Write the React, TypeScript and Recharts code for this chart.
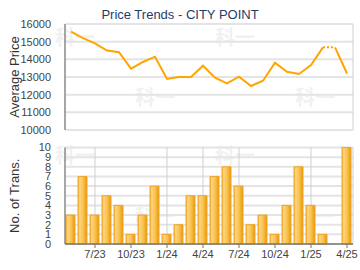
import {
  ComposedChart,
  Line,
  Bar,
  XAxis,
  YAxis,
  CartesianGrid,
} from "recharts";

const months = [
  "5/23", "6/23", "7/23", "8/23", "9/23", "10/23", "11/23", "12/23",
  "1/24", "2/24", "3/24", "4/24", "5/24", "6/24", "7/24", "8/24",
  "9/24", "10/24", "11/24", "12/24", "1/25", "2/25", "3/25", "4/25",
];
const avgPrice: (number | null)[] = [
  15570, 15200, 14900, 14500, 14400, 13470, 13850, 14150,
  12890, 13000, 13000, 13640, 12960, 12640, 13020, 12490,
  12790, 13810, 13300, 13170, 13680, 14680, null, 13200,
];
const transactions = [
  3, 7, 3, 5, 4, 1, 3, 6, 1, 2, 5, 5, 7, 8, 6, 2, 3, 1, 4, 8, 4, 1, 0, 10,
];
const labeledMonths = ["7/23", "10/23", "1/24", "4/24", "7/24", "10/24", "1/25", "4/25"];
const priceTicks = [10000, 11000, 12000, 13000, 14000, 15000, 16000];
const transTicks = [0, 1, 2, 3, 4, 5, 6, 7, 8, 9, 10];

const font = "Arial, 'Liberation Sans', sans-serif";
const xTicks = labeledMonths.map((m) => months.indexOf(m));

// months without sales carry the previous price, drawn dotted
const filled: number[] = [];
avgPrice.forEach((p, i) => filled.push(p ?? filled[i - 1]));

const data = months.map((m, i) => {
  const row: Record<string, number | string | null> = {
    i,
    m,
    price: avgPrice[i],
    trans: transactions[i],
    dotted: null,
    bridge: null,
  };
  return row;
});
avgPrice.forEach((p, i) => {
  if (p === null) {
    data[i - 1].dotted = filled[i - 1];
    data[i].dotted = filled[i];
    data[i].bridge = filled[i];
    if (i + 1 < data.length) data[i + 1].bridge = filled[i + 1];
  }
});

const tickStyle = { fontSize: 11, fill: "#444", fontFamily: font };

const marks = [
  [55, 27], [215, 27], [135, 87], [295, 87],
  [55, 145], [215, 145], [135, 206], [295, 206],
];

export default function App() {
  return (
    <div style={{ position: "fixed", left: 0, top: 0, width: 360, height: 270, background: "#fff", fontFamily: font }}>
      {marks.map(([x, y], k) => (
        <div
          key={k}
          style={{
            position: "absolute",
            left: x,
            top: y,
            fontSize: 20,
            fontWeight: 700,
            color: "#f1f1f1",
            fontFamily: "'Noto Sans CJK SC', sans-serif",
            lineHeight: "20px",
          }}
        >
          科一
        </div>
      ))}
      <div
        style={{
          position: "absolute",
          left: 0,
          top: 7,
          width: 360,
          textAlign: "center",
          fontSize: 13,
          color: "#1f3d6b",
        }}
      >
        Price Trends - CITY POINT
      </div>
      <div style={{ position: "absolute", left: 0, top: 0 }}>
        <ComposedChart width={360} height={138} data={data} margin={{ top: 24, right: 7, left: 0, bottom: 8 }}>
          <CartesianGrid vertical={false} stroke="#e4e4e4" strokeWidth={2} />
          <CartesianGrid horizontal={false} stroke="#d0d0d0" />
          <XAxis
            type="number"
            dataKey="i"
            domain={[-0.5, 23.5]}
            allowDataOverflow
            ticks={xTicks}
            tick={false}
            tickLine={false}
            height={0}
            axisLine={{ stroke: "#777", strokeWidth: 1.5 }}
          />
          <YAxis
            domain={[10000, 16000]}
            ticks={priceTicks}
            interval={0}
            width={65}
            tickLine={false}
            axisLine={{ stroke: "#666" }}
            tick={tickStyle}
            tickMargin={8}
            label={{
              value: "Average Price",
              angle: -90,
              position: "insideLeft",
              offset: 14,
              style: { textAnchor: "middle", fontSize: 13, fill: "#333", fontFamily: font },
            }}
          />
          <Line dataKey="price" stroke="#ffa500" strokeWidth={2} dot={false} isAnimationActive={false} />
          <Line dataKey="bridge" stroke="#ffa500" strokeWidth={2} dot={false} isAnimationActive={false} />
          <Line dataKey="dotted" stroke="#ffa500" strokeWidth={2} strokeDasharray="2 2" dot={false} isAnimationActive={false} />
        </ComposedChart>
      </div>
      <div style={{ position: "absolute", left: 0, top: 135 }}>
        <ComposedChart width={360} height={135} data={data} margin={{ top: 12.5, right: 7, left: 0, bottom: 0 }}>
          <defs>
            <linearGradient id="barFill" x1="0" y1="0" x2="1" y2="0">
              <stop offset="0%" stopColor="#f6b640" />
              <stop offset="20%" stopColor="#ffd57f" />
              <stop offset="60%" stopColor="#f8bf4c" />
              <stop offset="100%" stopColor="#e59a06" />
            </linearGradient>
          </defs>
          <CartesianGrid vertical={false} stroke="#e4e4e4" strokeWidth={2} />
          <CartesianGrid horizontal={false} stroke="#d0d0d0" />
          <XAxis
            type="number"
            dataKey="i"
            domain={[-0.5, 23.5]}
            allowDataOverflow
            ticks={xTicks}
            tickFormatter={(v: number) => months[v]}
            tick={tickStyle}
            tickSize={4}
            tickLine={{ stroke: "#777" }}
            height={26}
            axisLine={{ stroke: "#777", strokeWidth: 1.5 }}
          />
          <YAxis
            domain={[0, 10]}
            ticks={transTicks}
            interval={0}
            width={65}
            tickLine={false}
            axisLine={{ stroke: "#666" }}
            tick={tickStyle}
            tickMargin={8}
            label={{
              value: "No. of Trans.",
              angle: -90,
              position: "insideLeft",
              offset: 14,
              style: { textAnchor: "middle", fontSize: 13, fill: "#333", fontFamily: font },
            }}
          />
          <Bar dataKey="trans" barSize={9} fill="url(#barFill)" stroke="#eea526" strokeWidth={1} isAnimationActive={false} />
        </ComposedChart>
      </div>
    </div>
  );
}
